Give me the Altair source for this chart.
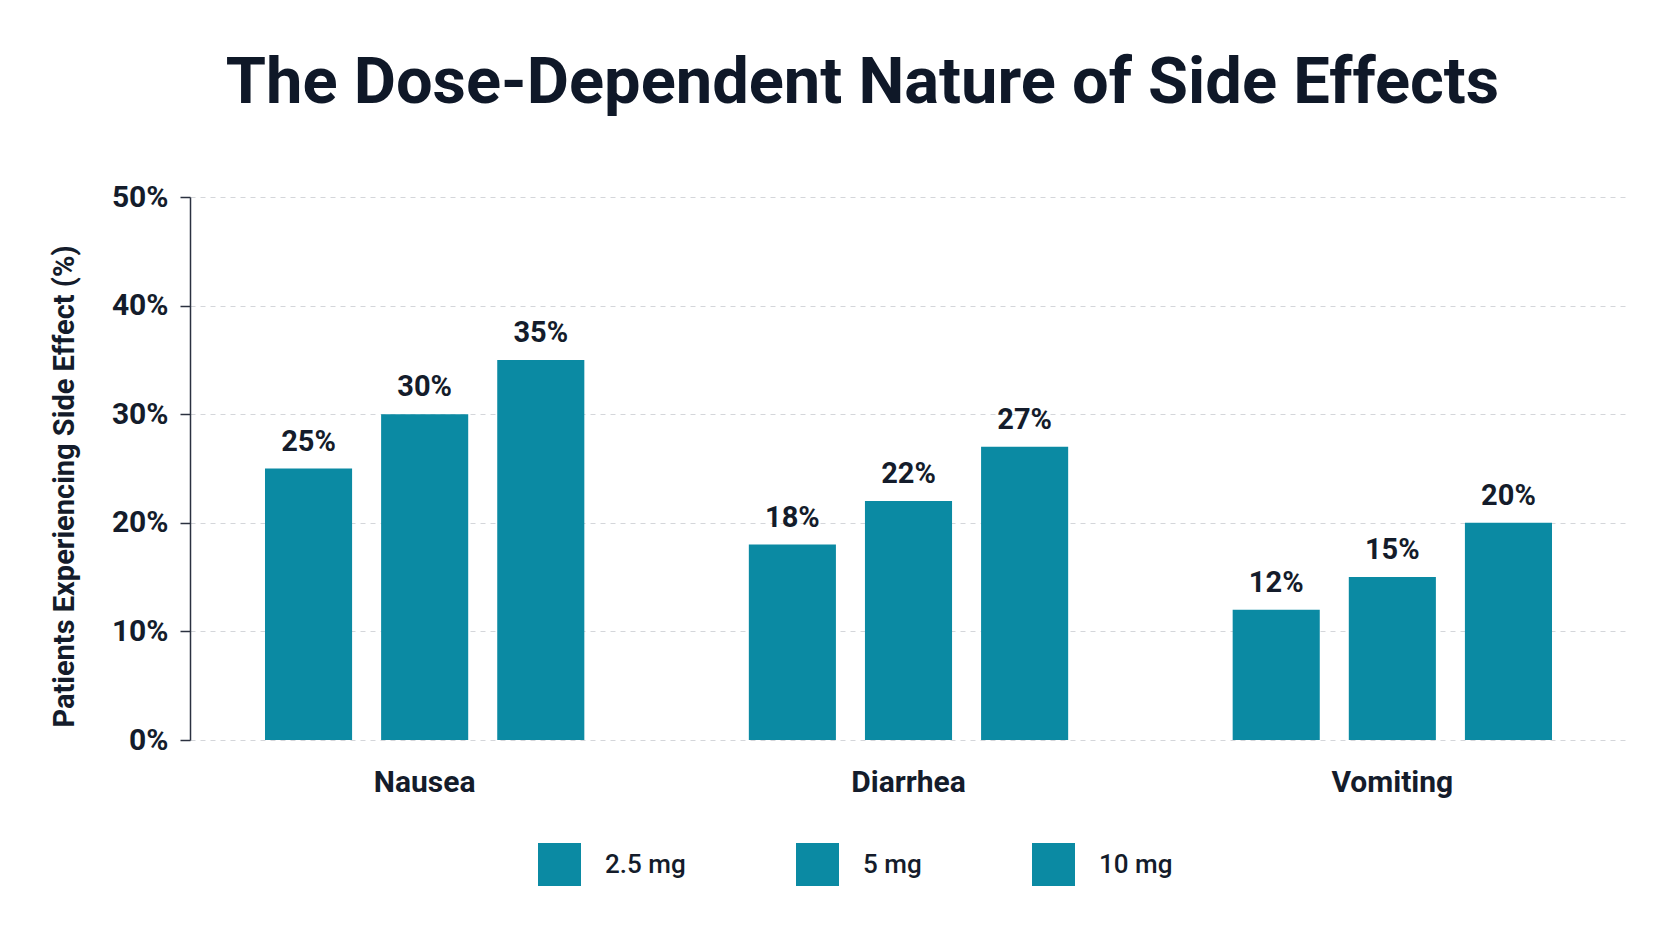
import altair as alt
import pandas as pd

categories = ["Nausea", "Diarrhea", "Vomiting"]
doses = ["2.5 mg", "5 mg", "10 mg"]
nausea = [25, 30, 35]
diarrhea = [18, 22, 27]
vomiting = [12, 15, 20]

rows = []
for cat, vals in zip(categories, [nausea, diarrhea, vomiting]):
    for d, v in zip(doses, vals):
        rows.append({"effect": cat, "dose": d, "value": v})
df = pd.DataFrame(rows)

FONT = "Roboto"
BAR = "#0b8aa3"
INK = "#141c2b"

x = alt.X("effect:N", sort=categories, title=None,
          scale=alt.Scale(paddingInner=0.34, paddingOuter=0.155),
          axis=alt.Axis(labelAngle=0, ticks=False, domain=False, labelFont=FONT,
                        labelFontSize=30, labelFontWeight="bold", labelColor=INK,
                        labelPadding=42, labelBaseline="middle"))
xo = alt.XOffset("dose:N", sort=doses, scale=alt.Scale(paddingInner=0.25, paddingOuter=0))
y = alt.Y("value:Q", scale=alt.Scale(domain=[0, 50]),
          title="Patients Experiencing Side Effect (%)",
          axis=alt.Axis(values=[0, 10, 20, 30, 40, 50], labelExpr="datum.value + '%'",
                        labelFont=FONT, labelFontSize=30, labelFontWeight="bold",
                        labelColor=INK, labelPadding=12, tickSize=10, tickColor="#2b3140",
                        tickWidth=1.5, domainColor="#2b3140", domainWidth=1.5,
                        grid=True, gridColor="#d4d6da", gridDash=[5, 5], gridWidth=1,
                        titleFont=FONT, titleFontSize=29, titleFontWeight="bold",
                        titleColor=INK, titleX=-126, titleY=289, titleAngle=-90,
                        titleAlign="center", titleBaseline="middle"))

bars = alt.Chart(df).mark_bar(color=BAR).encode(
    x=x, xOffset=xo, y=y,
    color=alt.Color("dose:N", sort=doses,
                    scale=alt.Scale(domain=doses, range=[BAR, BAR, BAR]),
                    legend=alt.Legend(title=None, orient="none", direction="horizontal",
                                      legendX=348, legendY=646, padding=0,
                                      symbolType="square", symbolSize=1849,
                                      symbolStrokeWidth=0, symbolOpacity=1,
                                      labelFont=FONT, labelFontSize=26,
                                      labelFontWeight=500, labelColor=INK,
                                      labelOffset=24, columnPadding=110)),
)

labels = alt.Chart(df).mark_text(baseline="bottom", dy=-12, font=FONT, fontSize=29,
                                 fontWeight="bold", color=INK).encode(
    x=alt.X("effect:N", sort=categories),
    xOffset=alt.XOffset("dose:N", sort=doses),
    y="value:Q",
    text=alt.Text("label:N"),
).transform_calculate(label="datum.value + '%'")

chart = alt.layer(bars, labels).properties(
    width=1437, height=543,
    title=alt.Title("The Dose-Dependent Nature of Side Effects", font=FONT, fontSize=65,
                    fontWeight="bold", color="#0f1828", anchor="middle", dx=-46,
                    offset=14, baseline="alphabetic"),
    autosize=alt.AutoSizeParams(type="none"),
    padding={"left": 182, "top": 189, "right": 30, "bottom": 150},
    background="white",
).configure_view(stroke=None)

chart.save("out.html", embed_options={"renderer": "svg", "actions": False})
